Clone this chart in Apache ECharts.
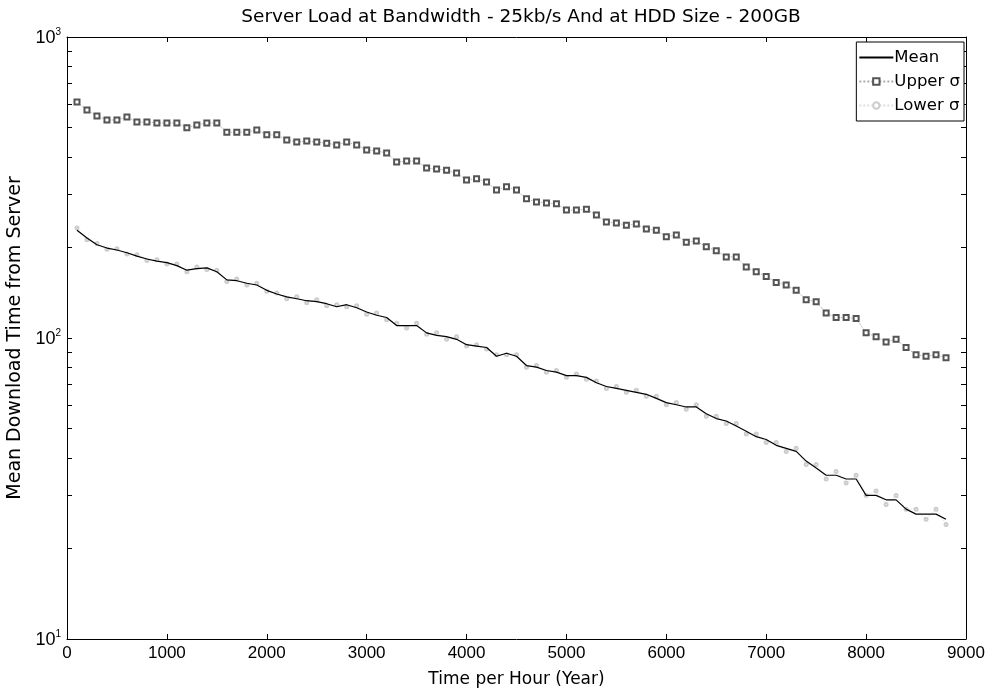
<!DOCTYPE html>
<html>
<head>
<meta charset="utf-8">
<script src="https://cdn.jsdelivr.net/npm/echarts@6/dist/echarts.min.js"></script>
<style>html,body{margin:0;padding:0;background:#fff;}#c{width:994px;height:690px;}</style>
</head>
<body>
<div id="c"></div>
<script>
var xValues = [];
var xStart = 100, xStep = 100, xCount = 88;
for (var i = 0; i < xCount; i++) xValues.push(xStart + i * xStep);

var meanValues = [228,215,204,199,196,192,187,183,180,178,
174,168,170,171,166,156,155,152,150,144,
140,137,135,133,132,130,127,129,126,122,
119,117,110,110,110,104,102,101,99,95,
94,93,87,89,87,81,80,78,77,75,
75,74,71,69,68,67,66,65,63,61,
60,59,59,56,54,53,51,49,47,46,
44,43,42,39,37,35,35,34,34,30,
30,29,29,27,26,26,26,25];

var upperValues = [608,572,546,530,530,542,522,522,518,518,
518,499,510,518,518,483,483,483,491,473,
473,455,448,451,448,444,438,448,438,421,
418,412,384,387,387,367,364,361,353,335,
338,330,310,318,310,290,283,281,279,266,
266,268,256,243,241,237,239,230,228,217,
220,208,210,201,195,186,186,172,166,160,
153,150,144,134,132,121,117,117,116,104,
101,97,99,93,88,87,88,86];

var lowerValues = [232,212,206,197,198,190,189,181,182,176,
176,166,172,169,168,154,157,150,152,143,
141,135,137,131,134,128,129,127,128,120,
121,115,112,108,112,103,104,99,101,94,
95,92,88,88,88,80,81,77,78,74,
76,73,72,68,69,66,67,64,64,60,
61,58,60,55,55,52,52,48,48,45,
45,42,43,38,38,34,36,33,35,30,
31,28,30,27,27,25,27,24];

var xTicks = [0,1000,2000,3000,4000,5000,6000,7000,8000,9000];
var yMajor = [10,100,1000];
var yMinor = [10,20,30,40,50,60,70,80,90,100,200,300,400,500,600,700,800,900,1000];
var seriesNames = ['Mean','Upper σ','Lower σ'];
var titleText = 'Server Load at Bandwidth - 25kb/s And at HDD Size - 200GB';
var xName = 'Time per Hour (Year)';
var yName = 'Mean Download Time from Server';

function pairs(vals){ return vals.map(function(v,i){ return [xValues[i], v]; }); }

var FONT = '"Liberation Sans", Arial, Helvetica, sans-serif';
var WFONT = '"DejaVu Sans", "Liberation Sans", sans-serif';
var chart = echarts.init(document.getElementById('c'), null, {renderer:'canvas'});
chart.setOption({
  animation: false,
  backgroundColor: '#fff',
  textStyle: {fontFamily: FONT},
  title: {text: titleText, left: 516, top: 3, textAlign: 'center',
    textStyle: {fontSize: 18.5, fontWeight: 'normal', color: '#000', fontFamily: WFONT}},
  grid: {left: 67, right: 28, top: 37, bottom: 51, containLabel: false, outerBoundsMode: 'none'},
  legend: {
    orient: 'vertical', right: 30, top: 42, padding: [7, 4, 7, 2],
    borderColor: '#000', borderWidth: 1, backgroundColor: '#fff',
    itemWidth: 34, itemHeight: 8, itemGap: 7,
    textStyle: {fontSize: 16.5, color: '#000', fontFamily: WFONT, padding: [0,0,0,-4]},
    data: [{name: seriesNames[0], itemStyle: {opacity: 0}}, seriesNames[1], seriesNames[2]]
  },
  xAxis: [{
    type: 'value', min: 0, max: 9000, interval: 1000, position: 'bottom',
    name: xName, nameLocation: 'middle', nameGap: 32,
    nameTextStyle: {fontSize: 17, color: '#000', fontFamily: WFONT},
    axisLine: {show: true, onZero: false, lineStyle: {color: '#000', width: 1}},
    axisTick: {show: true, inside: true, length: 5, lineStyle: {color: '#000'}},
    axisLabel: {fontSize: 17, color: '#000', margin: 6, fontFamily: FONT,
      formatter: function(v){ return String(v); }},
    splitLine: {show: false}
  }, {
    type: 'value', min: 0, max: 9000, interval: 1000, position: 'top',
    axisLine: {show: true, onZero: false, lineStyle: {color: '#000', width: 1}},
    axisTick: {show: true, inside: true, length: 5, lineStyle: {color: '#000'}},
    axisLabel: {show: false}, splitLine: {show: false}
  }],
  yAxis: [{
    type: 'log', logBase: 10, min: 10, max: 1000, position: 'left',
    name: yName, nameLocation: 'middle', nameGap: 30,
    nameTextStyle: {fontSize: 19, color: '#000', fontFamily: WFONT},
    axisLine: {show: true, onZero: false, lineStyle: {color: '#000', width: 1}},
    axisTick: {show: true, inside: true, length: 5, customValues: yMinor, lineStyle: {color: '#000'}},
    axisLabel: {
      customValues: yMajor, margin: 6,
      formatter: function(v){ var e = Math.round(Math.log10(v)); return '{b|10}{s|' + e + '}'; },
      rich: {b: {fontSize: 18, color: '#000', fontFamily: FONT, verticalAlign: 'bottom'},
             s: {fontSize: 10, color: '#000', fontFamily: FONT, verticalAlign: 'top', padding: [0,0,10,0]}}
    },
    splitLine: {show: false}
  }, {
    type: 'log', logBase: 10, min: 10, max: 1000, position: 'right',
    axisLine: {show: true, onZero: false, lineStyle: {color: '#000', width: 1}},
    axisTick: {show: true, inside: true, length: 5, customValues: yMinor, lineStyle: {color: '#000'}},
    axisLabel: {show: false}, splitLine: {show: false}
  }],
  series: [{
    name: seriesNames[0], type: 'line', data: pairs(meanValues),
    showSymbol: false, symbol: 'none',
    itemStyle: {color: '#000'},
    lineStyle: {color: '#000', width: 1.2},
    z: 4
  }, {
    name: seriesNames[1], type: 'line', data: pairs(upperValues),
    symbol: 'emptyRect', symbolSize: 5, showSymbol: true,
    itemStyle: {color: '#555', borderWidth: 0.9},
    lineStyle: {color: '#aaa', width: 1, type: 'dotted'},
    z: 3
  }, {
    name: seriesNames[2], type: 'line', data: pairs(lowerValues),
    symbol: 'emptyCircle', symbolSize: 3, showSymbol: true,
    itemStyle: {color: '#ccc', borderWidth: 0.8},
    lineStyle: {color: '#ddd', width: 1, type: 'dotted'},
    z: 2
  }]
});
</script>
</body>
</html>
